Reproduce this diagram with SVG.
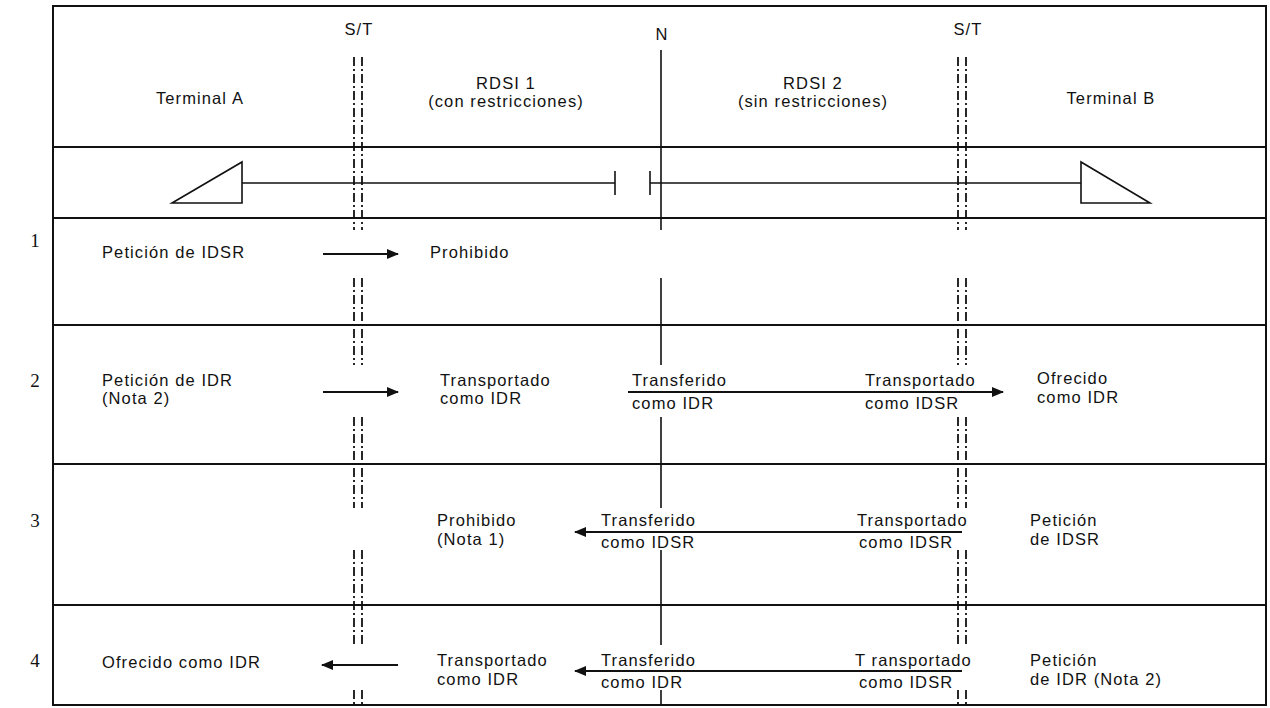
<svg xmlns="http://www.w3.org/2000/svg" width="1270" height="708" viewBox="0 0 1270 708">
<defs>
<style>
.t{font-family:"Liberation Sans",Arial,sans-serif;font-size:16.5px;letter-spacing:1.1px;fill:#111}
.c{text-anchor:middle}
.n{font-family:"Liberation Serif","Times New Roman",serif;font-size:19px;fill:#111;text-anchor:middle}
.ln{stroke:#111;stroke-width:2;fill:none}
.th{stroke:#111;stroke-width:1.6;fill:none}
.st{stroke:#111;stroke-width:1.8;fill:none;stroke-dasharray:9 3 2 3}
.ar{stroke:#111;stroke-width:2;fill:none}
</style>
<marker id="ah" viewBox="0 0 12 10" refX="11" refY="5" markerWidth="12" markerHeight="10" markerUnits="userSpaceOnUse" orient="auto">
<path d="M0,0 L12,5 L0,10 Z" fill="#111"/>
</marker>
</defs>
<rect width="1270" height="708" fill="#fff"/>

<g id="frame">
<rect x="53" y="6" width="1213" height="699" class="ln"/>
<line x1="53" y1="147" x2="1266" y2="147" class="ln"/>
<line x1="53" y1="218" x2="1266" y2="218" class="ln"/>
<line x1="53" y1="325" x2="1266" y2="325" class="ln"/>
<line x1="53" y1="464" x2="1266" y2="464" class="ln"/>
<line x1="53" y1="605" x2="1266" y2="605" class="ln"/>
</g>

<g id="row-numbers">
<text x="35" y="247" class="n">1</text>
<text x="35" y="387" class="n">2</text>
<text x="35" y="527" class="n">3</text>
<text x="35" y="667" class="n">4</text>
</g>

<g id="header">
<text x="359" y="35" class="t c">S/T</text>
<text x="662" y="40" class="t c">N</text>
<text x="968" y="35" class="t c">S/T</text>
<text x="200" y="104" class="t c">Terminal A</text>
<text x="506" y="89" class="t c">RDSI 1</text>
<text x="506" y="107" class="t c">(con restricciones)</text>
<text x="813" y="89" class="t c">RDSI 2</text>
<text x="813" y="107" class="t c">(sin restricciones)</text>
<text x="1111" y="104" class="t c">Terminal B</text>
</g>

<g id="reference-lines">
<path class="st" d="M354,57V230M354,278V365M354,417V508M354,550V645M354,690V705"/>
<path class="st" d="M362,57V230M362,278V365M362,417V508M362,550V645M362,690V705"/>
<path class="st" d="M958,57V230M958,278V365M958,417V508M958,550V645M958,690V705"/>
<path class="st" d="M966,57V230M966,278V365M966,417V508M966,550V645M966,690V705"/>
<path class="th" d="M661,50V230M661,278V365M661,417V508M661,550V645M661,690V705"/>
</g>

<g id="channel">
<polygon points="172,203 242,162 242,203" class="th"/>
<line x1="242" y1="183" x2="615" y2="183" class="th"/>
<line x1="615" y1="171" x2="615" y2="195" class="th"/>
<line x1="650" y1="171" x2="650" y2="195" class="th"/>
<line x1="650" y1="183" x2="1081" y2="183" class="th"/>
<polygon points="1081,162 1081,203 1150,203" class="th"/>
</g>

<g id="connectors">
<line x1="323" y1="254" x2="398" y2="254" class="ar" marker-end="url(#ah)"/>
<line x1="323" y1="392" x2="398" y2="392" class="ar" marker-end="url(#ah)"/>
<line x1="628" y1="392" x2="1003" y2="392" class="ar" marker-end="url(#ah)"/>
<line x1="962" y1="532" x2="575" y2="532" class="ar" marker-end="url(#ah)"/>
<line x1="398" y1="665" x2="322" y2="665" class="ar" marker-end="url(#ah)"/>
<line x1="962" y1="671" x2="575" y2="671" class="ar" marker-end="url(#ah)"/>
</g>

<g id="row1">
<text x="102" y="258" class="t">Petición de IDSR</text>
<text x="430" y="258" class="t">Prohibido</text>
</g>

<g id="row2">
<text x="102" y="386" class="t">Petición de IDR</text>
<text x="102" y="404" class="t">(Nota 2)</text>
<text x="440" y="386" class="t">Transportado</text>
<text x="440" y="404" class="t">como IDR</text>
<text x="632" y="386" class="t">Transferido</text>
<text x="632" y="409" class="t">como IDR</text>
<text x="865" y="386" class="t">Transportado</text>
<text x="865" y="409" class="t">como IDSR</text>
<text x="1037" y="384" class="t">Ofrecido</text>
<text x="1037" y="403" class="t">como IDR</text>
</g>

<g id="row3">
<text x="437" y="526" class="t">Prohibido</text>
<text x="437" y="545" class="t">(Nota 1)</text>
<text x="601" y="526" class="t">Transferido</text>
<text x="601" y="548" class="t">como IDSR</text>
<text x="857" y="526" class="t">Transportado</text>
<text x="859" y="548" class="t">como IDSR</text>
<text x="1030" y="526" class="t">Petición</text>
<text x="1030" y="545" class="t">de IDSR</text>
</g>

<g id="row4">
<text x="102" y="668" class="t">Ofrecido como IDR</text>
<text x="437" y="666" class="t">Transportado</text>
<text x="437" y="685" class="t">como IDR</text>
<text x="601" y="666" class="t">Transferido</text>
<text x="601" y="688" class="t">como IDR</text>
<text x="855" y="666" class="t">T ransportado</text>
<text x="859" y="688" class="t">como IDSR</text>
<text x="1030" y="666" class="t">Petición</text>
<text x="1030" y="685" class="t">de IDR (Nota 2)</text>
</g>
</svg>
